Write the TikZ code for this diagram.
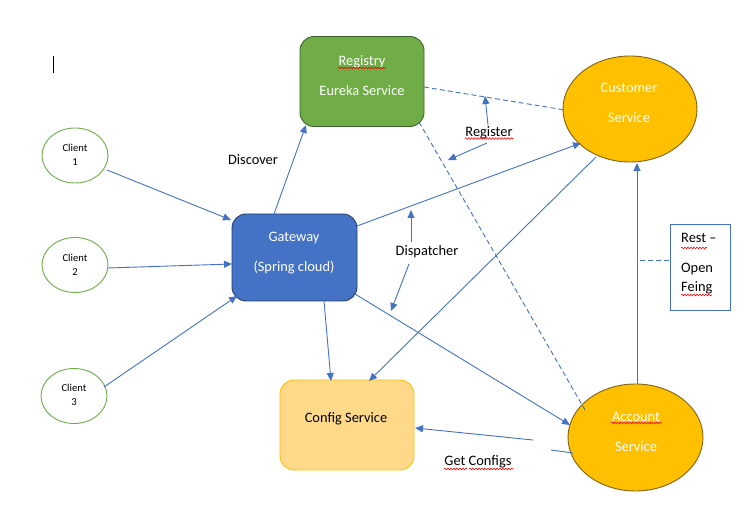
\documentclass[tikz,border=0pt]{standalone}
\usepackage{fontspec}
\setmainfont{Carlito}
\usetikzlibrary{arrows.meta,decorations.pathmorphing}
\definecolor{lnblue}{RGB}{68,114,196}
\definecolor{reggreen}{RGB}{112,173,71}
\definecolor{regborder}{RGB}{60,100,40}
\definecolor{gwborder}{RGB}{38,62,110}
\definecolor{gold}{RGB}{255,192,0}
\definecolor{goldborder}{RGB}{128,96,20}
\definecolor{cfgfill}{RGB}{255,217,138}
\tikzset{
  conn/.style={draw=lnblue, line width=0.9pt},
  arr/.style={conn, -{Triangle[length=8pt,width=7pt]}},
  darr/.style={conn, {Triangle[length=8pt,width=7pt]}-{Triangle[length=8pt,width=7pt]}},
  dconn/.style={conn, dashed, dash pattern=on 5pt off 3pt},
  txt/.style={font=\fontsize{14.4}{30}\selectfont, inner sep=0pt},
  wtxt/.style={txt, text=white, align=center},
  btxt/.style={txt, text=black},
  ctxt/.style={font=\fontsize{10.6}{14}\selectfont, inner sep=0pt, align=center},
  boxshape/.style={rectangle, rounded corners=14pt, line width=0.9pt, inner sep=0pt},
  ellshape/.style={ellipse, line width=0.9pt, inner sep=0pt},
  client/.style={ellipse, draw=reggreen, line width=0.9pt, fill=white, minimum width=66pt, minimum height=55pt, inner sep=0pt},
  spell/.style={draw=red, line width=0.6pt, decorate, decoration={snake, amplitude=0.8pt, segment length=3pt}},
}
\usetikzlibrary{shapes.geometric}
\begin{document}
\begin{tikzpicture}[x=1pt,y=-1pt]
\useasboundingbox (0,0) rectangle (745,518);
\fill[white] (0,0) rectangle (745,518);

% cursor
\draw[black, line width=0.8pt] (53,56) -- (53,73);

% main shapes
\node[boxshape, draw=regborder, fill=reggreen, minimum width=124pt, minimum height=90pt] (reg) at (362,81.5) {};
\node[wtxt] (regtext) at (362,75.5) {Registry\\Eureka Service};

\node[ellshape, draw=goldborder, fill=gold, minimum width=134pt, minimum height=106pt] (cust) at (630,109) {};
\node[wtxt] (custtext) at (629,103) {Customer\\Service};

\node[boxshape, draw=gwborder, fill=lnblue, minimum width=125pt, minimum height=87pt] (gw) at (294.5,257.5) {};
\node[wtxt] (gwtext) at (294,253) {Gateway\\(Spring cloud)};

\node[boxshape, draw=gold, fill=cfgfill, minimum width=134pt, minimum height=90pt] (cfg) at (347,425) {};
\node[btxt] (cfgtext) at (346,419) {Config Service};

\node[ellshape, draw=goldborder, fill=gold, minimum width=135pt, minimum height=107pt] (acc) at (635.5,437.5) {};
\node[wtxt] (acctext) at (636,432) {Account\\Service};

\node[client] (c1) at (75,155.5) {};
\node[ctxt] (c1t) at (75,155) {Client\\1};
\node[client] (c2) at (75,265) {};
\node[ctxt] (c2t) at (75,265) {Client\\2};
\node[client] (c3) at (74,396) {};
\node[ctxt] (c3t) at (74,395) {Client\\3};

% Rest box
\node[rectangle, draw=lnblue, line width=0.9pt, minimum width=60pt, minimum height=86pt, inner sep=0pt] (rest) at (700,267) {};
\node[btxt, anchor=west] (rest1) at (681,238) {Rest –};
\node[btxt, anchor=west] (rest2) at (681,269) {Open};
\node[btxt, anchor=west] (rest3) at (681,288) {Feing};

% labels
\node[btxt] (ldisc) at (253,159.5) {Discover};
\node[btxt] (lreg) at (489,133) {Register};
\node[btxt] (ldisp) at (427,252) {Dispatcher};
\node[btxt] (lget) at (478,462) {Get Configs};

% coordinates
\coordinate (gwR1) at (357,226);
\coordinate (gwT) at (274,214);
\coordinate (gwB) at (324,301);
\coordinate (gwBR) at (355,294);
\coordinate (regT) at (306,125);
\coordinate (custL) at (581,143);
\coordinate (custBL) at (596,157);
\coordinate (custB) at (637,163);
\coordinate (accT) at (637,384);
\coordinate (accL) at (570,425);
\coordinate (accLL) at (573,453);
\coordinate (cfgT1) at (331,381);
\coordinate (cfgT2) at (369,381);
\coordinate (cfgR) at (415,428);
\coordinate (gap1) at (551,450);
\coordinate (gap2) at (533,440);
\coordinate (regR) at (424,87);
\coordinate (custW) at (565,110);
\coordinate (regBR) at (419,122);
\coordinate (accNW) at (585,410);
\coordinate (regUp) at (485,96);
\coordinate (regUpS) at (488,125);
\coordinate (regDnS) at (487,143);
\coordinate (regDn) at (448,160);
\coordinate (dispUp) at (411,210);
\coordinate (dispUpS) at (411,242);
\coordinate (dispDnS) at (409,264);
\coordinate (dispDn) at (391,311);
\coordinate (c1e) at (107,170);
\coordinate (c2e) at (108,268);
\coordinate (c3e) at (104,387);
\coordinate (gwL1) at (231,220);
\coordinate (gwL2) at (232,264);
\coordinate (gwL3) at (237,296);
\coordinate (dashS) at (640,260);
\coordinate (restL) at (670,260);

% connectors
\draw[arr] (c1e) -- (gwL1);
\draw[arr] (c2e) -- (gwL2);
\draw[arr] (c3e) -- (gwL3);
\draw[arr] (gwT) -- (regT);
\draw[arr] (gwR1) -- (custL);
\draw[arr] (gwB) -- (cfgT1);
\draw[arr] (custBL) -- (cfgT2);
\draw[arr] (gwBR) -- (accL);
\draw[conn] (accLL) -- (gap1);
\draw[arr] (gap2) -- (cfgR);
\draw[arr] (accT) -- (custB);
\draw[dconn] (regR) -- (custW);
\draw[dconn] (regBR) -- (accNW);
\draw[arr] (regUpS) -- (regUp);
\draw[arr] (regDnS) -- (regDn);
\draw[arr] (dispUpS) -- (dispUp);
\draw[arr] (dispDnS) -- (dispDn);
\draw[dconn] (dashS) -- (restL);

% spell-check underlines
\draw[spell] (338,68) -- (386,68);
\draw[spell] (465,138.5) -- (513,138.5);
\draw[spell] (611,423) -- (662,423);
\draw[spell] (444,469) -- (467,469);
\draw[spell] (469,469) -- (513,469);
\draw[spell] (681,248) -- (707,248);
\draw[spell] (681,295) -- (712,295);
\end{tikzpicture}
\end{document}
